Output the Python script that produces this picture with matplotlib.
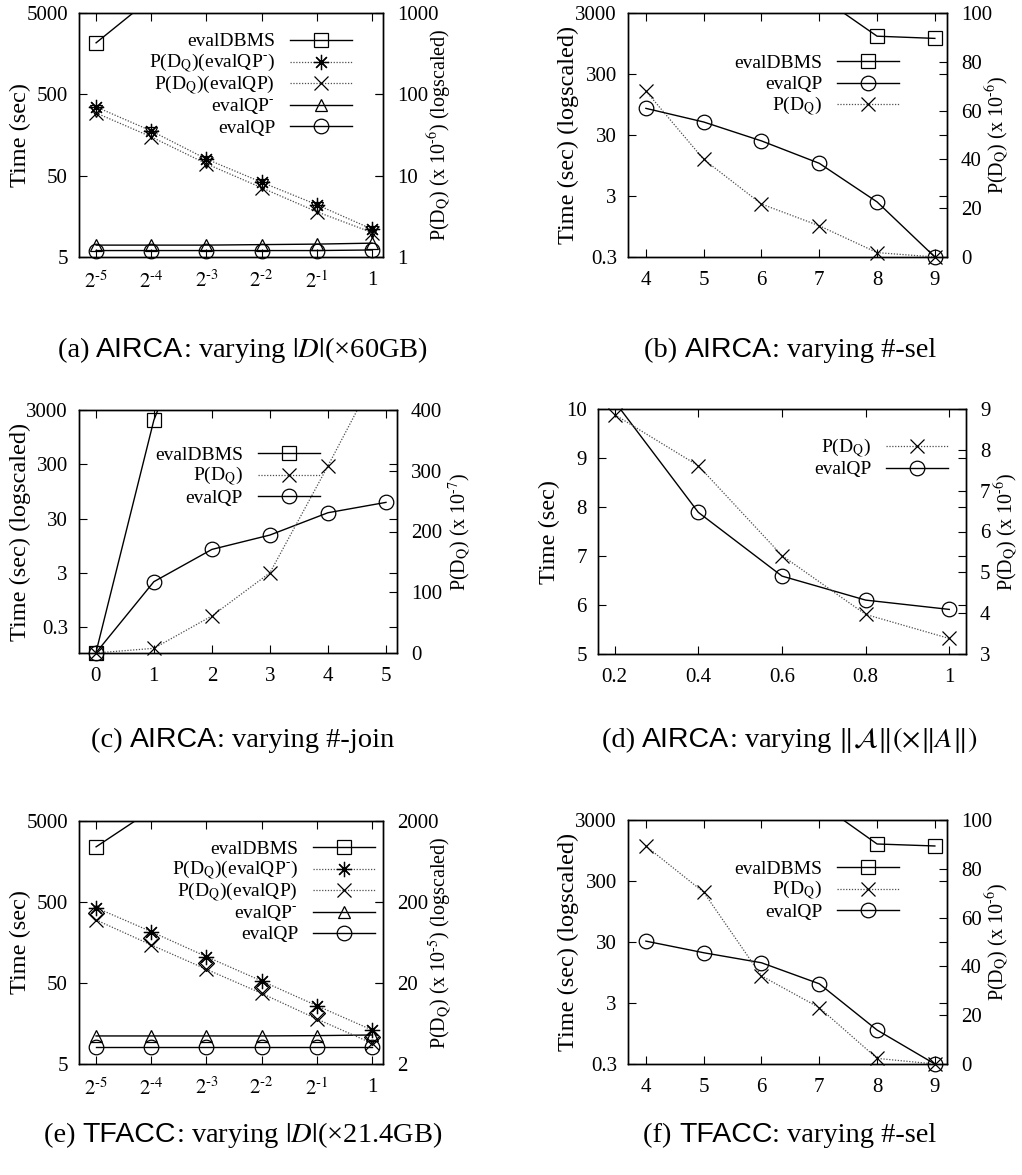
import numpy as np
import matplotlib
matplotlib.use("Agg")
import matplotlib.pyplot as plt
import matplotlib.transforms as mtransforms
from matplotlib.lines import Line2D
from matplotlib.ticker import NullLocator
from matplotlib.offsetbox import TextArea, HPacker, AnnotationBbox

plt.rcParams['font.family'] = ['Liberation Serif', 'DejaVu Serif']
plt.rcParams['mathtext.fontset'] = 'stix'

W, H = 1022, 1175
HY = '\u2010'  # short hyphen used as superscript sign

# ---- data ----
# (a) AIRCA: varying |D|
size_frac = [2**-5, 2**-4, 2**-3, 2**-2, 2**-1, 1]
size_labels = ['$2^{%s5}$' % HY, '$2^{%s4}$' % HY, '$2^{%s3}$' % HY,
               '$2^{%s2}$' % HY, '$2^{%s1}$' % HY, '1']
a_dbms = [2150, 7600, 15000, 30000, 60000, 120000]
a_p_qpm = [70, 35.5, 16, 8.3, 4.4, 2.2]
a_p_qp = [59, 30, 14, 7.1, 3.6, 2.0]
a_p_hidden = [63, 33, 14.9, 7.7, 4.0, 2.05]
a_qpm = [7.0, 7.0, 7.0, 7.1, 7.2, 7.4]
a_qp = [6.0, 6.0, 6.0, 6.0, 6.0, 6.1]

# (b) AIRCA: varying #-sel
sel = [4, 5, 6, 7, 8, 9]
b_dbms = [30000, 20000, 12000, 5700, 1250, 1150]
b_qp = [82, 49, 24, 10.3, 2.4, 0.3]
b_p = [68, 40, 21.7, 12.8, 1.8, 0]

# (c) AIRCA: varying #-join
join = [0, 1, 2, 3, 4, 5]
c_dbms = [0.1, 1950, 1e6, 1e8, 1e10, 1e12]
c_p = [0, 7.7, 61, 132, 308, 490]
c_qp = [0.1, 2.06, 8.1, 14.9, 38.4, 59.6]

# (d) AIRCA: varying ||A||
attr = [0.2, 0.4, 0.6, 0.8, 1.0]
d_qp = [10.15, 7.89, 6.59, 6.10, 5.91]
d_p = [8.86, 7.61, 5.41, 3.97, 3.38]

# (e) TFACC: varying |D|
e_dbms = [2400, 6800, 14000, 28000, 56000, 110000]
e_p_qpm = [170, 86, 42.3, 21.2, 10.5, 5.26]
e_p_qp = [120, 59, 29.5, 14.9, 7.2, 3.6]
e_p_hidden = [145, 71, 35, 18, 8.5, 4.3]
e_qpm = [11.1, 11.1, 11.1, 11.1, 11.2, 11.4]
e_qp = [8.2, 8.2, 8.2, 8.2, 8.2, 8.2]

# (f) TFACC: varying #-sel
f_dbms = [30000, 20000, 12000, 5700, 1213, 1125]
f_p = [89.3, 70.4, 36.1, 23.1, 2.3, 0]
f_qp = [31, 20, 13.7, 6.2, 1.08, 0.3]

time_ticks_a = [5, 50, 500, 5000]
time_ticks_b = [0.3, 3, 30, 300, 3000]
time_ticks_d = [5, 6, 7, 8, 9, 10]
p_ticks_a = [1, 10, 100, 1000]
p_ticks_b = [0, 20, 40, 60, 80, 100]
p_ticks_c = [0, 100, 200, 300, 400]
p_ticks_d = [3, 4, 5, 6, 7, 8, 9]
p_ticks_e = [2, 20, 200, 2000]

# caption pieces: (serif prefix, sans dataset, serif rest)
captions = [
    ('(a) ', 'AIRCA', ': varying $|D|$(×60GB)'),
    ('(b) ', 'AIRCA', ': varying #-sel'),
    ('(c) ', 'AIRCA', ': varying #-join'),
    ('(d) ', 'AIRCA', ': varying $\\Vert\\mathcal{A}\\Vert(\\times\\Vert A\\Vert)$'),
    ('(e) ', 'TFACC', ': varying $|D|$(×21.4GB)'),
    ('(f) ', 'TFACC', ': varying #-sel'),
]

PQ = 'P(D$_{\\mathrm{Q}}$)'
QPM = 'evalQP$^{%s}$' % HY

fig = plt.figure(figsize=(W / 100, H / 100), dpi=100)

MK = {
    's': dict(marker='s', ms=10.5, mfc='none'),
    'o': dict(marker='o', ms=10.5, mfc='none'),
    '^': dict(marker='^', ms=9, mfc='none'),
    'v': dict(marker='v', ms=8, mfc='none'),
    'D': dict(marker='D', ms=8, mfc='none'),
    'x': dict(marker='x', ms=9.5),
    '*': dict(marker=(8, 2, 0), ms=11),
}


def line_style(dotted):
    if dotted:
        return dict(color='0.3', lw=0.9, ls=(0, (1, 1.3)))
    return dict(color='k', lw=1.0, ls='-')


def draw(ax, x, y, mk, dotted=False, line=True):
    if line:
        ax.plot(x, y, **line_style(dotted))
    yy = np.asarray(y, float)
    lo, hi = ax.get_ylim()
    keep = (yy >= lo * 0.999) & (yy <= hi * 1.001)
    ax.plot(np.asarray(x)[keep], yy[keep], ls='none', color='k', mec='k', mew=0.9,
            clip_on=False, **MK[mk])


def key(ax, entries, right_px, top_px, dy=21.5):
    # gnuplot style key: text right-aligned, sample line with marker on the right
    t = mtransforms.Affine2D().scale(1 / 100) + fig.dpi_scale_trans + \
        mtransforms.ScaledTranslation(1, 1, ax.transAxes)
    for i, (label, mk, dotted) in enumerate(entries):
        y = -(top_px + i * dy)
        x1 = -right_px
        x0 = x1 - 62
        ax.add_line(Line2D([x0, x1], [y, y], transform=t, clip_on=False, **line_style(dotted)))
        ax.add_line(Line2D([(x0 + x1) / 2], [y], transform=t, clip_on=False, ls='none',
                           color='k', mec='k', mew=0.9, **MK[mk]))
        ax.text(x0 - 15, y - 6.5, label, transform=t, ha='right', va='baseline', fontsize=14)


def panel(rect, xlim, xticks, xlabels, ylim, yticks, ylog, y2lim, y2ticks, y2log,
          ylabel, y2label, lab_l, lab_r, xlog2=False):
    l, r, t, b = rect
    ax = fig.add_axes([l / W, 1 - b / H, (r - l) / W, (b - t) / H])
    ax2 = ax.twinx()
    if xlog2:
        ax.set_xscale('log', base=2)
    if ylog:
        ax.set_yscale('log')
    if y2log:
        ax2.set_yscale('log')
    ax.set_xlim(*xlim)
    ax.set_ylim(*ylim)
    ax2.set_ylim(*y2lim)
    ax.set_xticks(xticks, xlabels)
    ax.set_yticks(yticks, [('%g' % v) for v in yticks])
    ax2.set_yticks(y2ticks, [('%g' % v) for v in y2ticks])
    for a in (ax, ax2):
        a.xaxis.set_minor_locator(NullLocator())
        a.yaxis.set_minor_locator(NullLocator())
        for s in a.spines.values():
            s.set_linewidth(1.0)
    ax.tick_params(direction='in', length=6, width=0.8, top=True, right=True,
                   labelsize=15, pad=8)
    ax.tick_params(axis='x', pad=10)
    ax2.tick_params(direction='in', length=6, width=0.8, left=False, right=True,
                    labelsize=15, pad=10)
    ax.set_ylabel(ylabel, fontsize=17.5, va='center')
    ax.yaxis.set_label_coords(-lab_l / (r - l), 0.5)
    ax2.set_ylabel(y2label, fontsize=14.5, va='center')
    ax2.yaxis.set_label_coords(1 + lab_r / (r - l), 0.5)
    return ax, ax2


# (a)
ax, ax2 = panel((79, 383, 13, 257), (2**-5.31, 2**0.2), size_frac, size_labels,
                (5, 5000), time_ticks_a, True, (1, 1000), p_ticks_a, True,
                'Time (sec)', PQ + ' (x 10$^{%s6}$) (logscaled)' % HY, 59, 57, xlog2=True)
draw(ax, size_frac, a_dbms, 's')
draw(ax2, size_frac, a_p_qpm, '*', dotted=True)
draw(ax2, size_frac, a_p_qp, 'x', dotted=True)
draw(ax2, size_frac, a_p_hidden, 'v', line=False)
draw(ax, size_frac, a_qpm, '^')
draw(ax, size_frac, a_qp, 'o')
key(ax2, [('evalDBMS', 's', False), (PQ + '(' + QPM + ')', '*', True),
          (PQ + '(evalQP)', 'x', True), (QPM, '^', False),
          ('evalQP', 'o', False)], 31, 27)

# (b)
ax, ax2 = panel((628, 947, 13, 257), (3.69, 9.21), sel, [str(v) for v in sel],
                (0.3, 3000), time_ticks_b, True, (0, 100), p_ticks_b, False,
                'Time (sec) (logscaled)', PQ + ' (x 10$^{%s6}$)' % HY, 60, 51)
draw(ax, sel, b_dbms, 's')
draw(ax, sel, b_qp, 'o')
draw(ax2, sel, b_p, 'x', dotted=True)
key(ax2, [('evalDBMS', 's', False), ('evalQP', 'o', False), (PQ, 'x', True)], 48, 48)

# (c)
ax, ax2 = panel((79, 397, 410, 653), (-0.29, 5.19), join, [str(v) for v in join],
                (0.1, 3000), time_ticks_b, True, (0, 400), p_ticks_c, False,
                'Time (sec) (logscaled)', PQ + ' (x 10$^{%s7}$)' % HY, 59, 63)
draw(ax, join, c_dbms, 's')
draw(ax2, join, c_p, 'x', dotted=True)
draw(ax, join, c_qp, 'o')
key(ax2, [('evalDBMS', 's', False), (PQ, 'x', True), ('evalQP', 'o', False)], 77, 43)

# (d)
ax, ax2 = panel((598, 966, 409, 654), (0.16, 1.04), attr, ['%g' % v for v in attr],
                (5, 10), time_ticks_d, False, (3, 9), p_ticks_d, False,
                'Time (sec)', PQ + ' (x 10$^{%s6}$)' % HY, 49, 41)
draw(ax2, attr, d_p, 'x', dotted=True)
draw(ax, attr, d_qp, 'o')
key(ax2, [(PQ, 'x', True), ('evalQP', 'o', False)], 18, 37)

# (e)
ax, ax2 = panel((79, 383, 821, 1064), (2**-5.31, 2**0.2), size_frac, size_labels,
                (5, 5000), time_ticks_a, True, (2, 2000), p_ticks_e, True,
                'Time (sec)', PQ + ' (x 10$^{%s5}$) (logscaled)' % HY, 59, 57, xlog2=True)
draw(ax, size_frac, e_dbms, 's')
draw(ax2, size_frac, e_p_qpm, '*', dotted=True)
draw(ax2, size_frac, e_p_qp, 'x', dotted=True)
draw(ax2, size_frac, e_p_hidden, 'D', line=False)
draw(ax, size_frac, e_qpm, '^')
draw(ax, size_frac, e_qp, 'o')
key(ax2, [('evalDBMS', 's', False), (PQ + '(' + QPM + ')', '*', True),
          (PQ + '(evalQP)', 'x', True), (QPM, '^', False),
          ('evalQP', 'o', False)], 8, 26)

# (f)
ax, ax2 = panel((628, 947, 820, 1064), (3.69, 9.21), sel, [str(v) for v in sel],
                (0.3, 3000), time_ticks_b, True, (0, 100), p_ticks_b, False,
                'Time (sec) (logscaled)', PQ + ' (x 10$^{%s6}$)' % HY, 60, 51)
draw(ax, sel, f_dbms, 's')
draw(ax2, sel, f_p, 'x', dotted=True)
draw(ax, sel, f_qp, 'o')
key(ax2, [('evalDBMS', 's', False), (PQ, 'x', True), ('evalQP', 'o', False)], 48, 47)

# captions: serif text with the dataset name in sans
cap_x = [243, 790]
cap_y = [350, 740, 1135]
for i, (pre, name, rest) in enumerate(captions):
    parts = [TextArea(pre, textprops=dict(fontsize=20.5)),
             TextArea(name, textprops=dict(fontsize=20.5, family='Liberation Sans')),
             TextArea(rest, textprops=dict(fontsize=20.5))]
    box = HPacker(children=parts, align='baseline', pad=0, sep=0)
    ab = AnnotationBbox(box, (cap_x[i % 2], H - cap_y[i // 2]), xycoords='figure pixels',
                        frameon=False, box_alignment=(0.5, 0.5))
    fig.add_artist(ab)

fig.savefig('out.png', dpi=100)
